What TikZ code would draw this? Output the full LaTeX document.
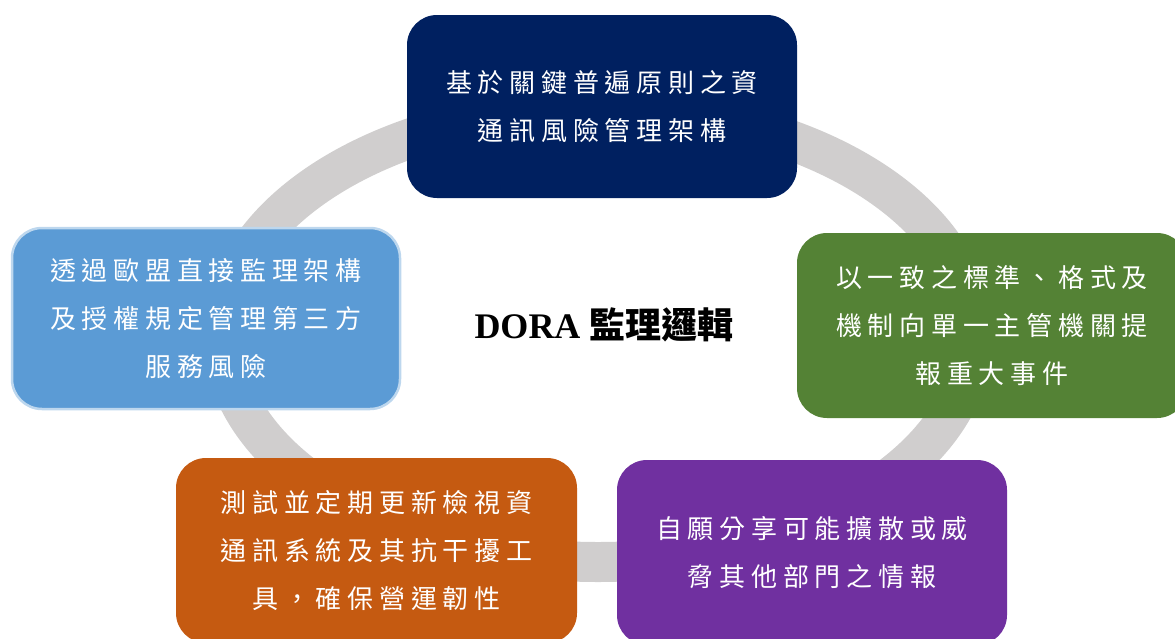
\documentclass[tikz,border=0pt]{standalone}
\usepackage{fontspec}
\setmainfont{Liberation Serif}
\newfontfamily\cjk[LetterSpace=22]{Noto Sans CJK TC}
\newfontfamily\cjkt{Noto Sans CJK TC}
\definecolor{ringgray}{RGB}{208,206,206}
\definecolor{navybox}{RGB}{0,32,96}
\definecolor{bluebox}{RGB}{91,155,213}
\definecolor{blueedge}{RGB}{189,215,238}
\definecolor{greenbox}{RGB}{84,130,53}
\definecolor{orangebox}{RGB}{197,90,17}
\definecolor{purplebox}{RGB}{112,48,160}
\tikzset{
  ringline/.style={draw=ringgray, line width=40pt},
  card/.style={rectangle, rounded corners=30pt, draw=none, text=white, align=center,
    font=\cjk\fontsize{26pt}{48pt}\selectfont, inner sep=0pt},
  title/.style={text=black, inner sep=0pt}
}
\begin{document}
\begin{tikzpicture}[x=1pt,y=-1pt]
\useasboundingbox (0,0) rectangle (1175,638);
\draw[ringline] (598,335) ellipse [x radius=375pt, y radius=227pt];
\node[card, fill=navybox, minimum width=390pt, minimum height=183pt] (top) at (602,106.5)
  {基於關鍵普遍原則之資\\通訊風險管理架構};
\node[card, fill=bluebox, draw=blueedge, line width=2.5pt, minimum width=388pt, minimum height=181pt] (left) at (206,318.5)
  {透過歐盟直接監理架構\\及授權規定管理第三方\\服務風險};
\node[card, fill=greenbox, minimum width=390pt, minimum height=185pt] (right) at (992,325.5)
  {以一致之標準、格式及\\機制向單一主管機關提\\報重大事件};
\node[card, fill=orangebox, minimum width=401pt, minimum height=185pt] (bl) at (376.5,550.5)
  {測試並定期更新檢視資\\通訊系統及其抗干擾工\\具，確保營運韌性};
\node[card, fill=purplebox, minimum width=390pt, minimum height=185pt] (br) at (812,552.5)
  {自願分享可能擴散或威\\脅其他部門之情報};
\node[title] (ttl) at (604,325) {\fontsize{36pt}{40pt}\selectfont\bfseries DORA {\cjkt\bfseries 監理邏輯}};
\end{tikzpicture}
\end{document}
